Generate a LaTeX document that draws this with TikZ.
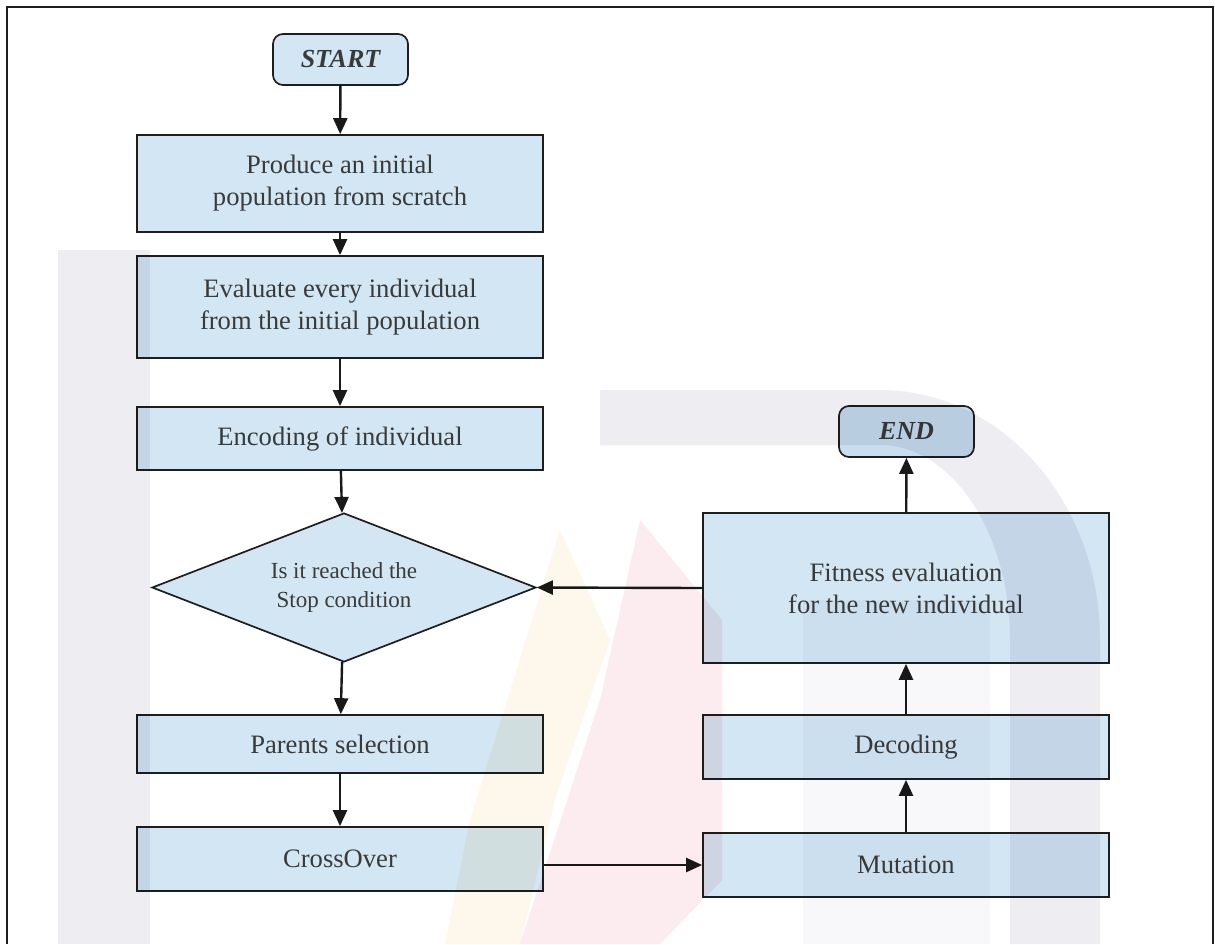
\documentclass[tikz,border=0pt]{standalone}
\usepackage{fontspec}
\setmainfont{Liberation Serif}
\usetikzlibrary{arrows.meta,shapes.geometric}
\definecolor{BoxFill}{RGB}{210,230,243}
\definecolor{EndFill}{RGB}{200,221,238}
\definecolor{BoxLine}{RGB}{30,30,30}
\definecolor{TextGray}{RGB}{58,58,58}
\definecolor{MarkGray}{RGB}{237,237,242}
\definecolor{MarkLight}{RGB}{248,248,250}
\definecolor{MarkPink}{RGB}{252,236,239}
\definecolor{MarkOrange}{RGB}{254,247,236}

\begin{document}
\begin{tikzpicture}[x=0.5pt, y=-0.5pt,
    block/.style={draw=BoxLine, line width=0.85pt, fill=BoxFill, text=TextGray, minimum width=203pt, align=center, inner sep=2pt, font=\fontsize{13.3}{16}\selectfont},
    term/.style={block, rounded corners=5pt, minimum width=67.5pt, minimum height=25.5pt, font=\fontsize{13}{15}\selectfont\bfseries\itshape},
    test/.style={block, diamond, aspect=2.58, minimum width=192pt, minimum height=74.5pt, inner sep=0pt, font=\fontsize{11.5}{14.5}\selectfont},
    flow/.style={-{Triangle[length=8pt,width=7pt]}, line width=1.2pt, draw=black!90}]
        \useasboundingbox (0,0) rectangle (1215,944);
        \fill[white] (0,0) rectangle (1215,944);
        \draw[line width=1.3pt, BoxLine] (7,944) -- (7,7) -- (1213,7) -- (1213,944);

        \node[term] (start) at (340.5,59.5) {START};
        \node[block, minimum height=48.5pt] (produce) at (340,183.5) {Produce an initial\\population from scratch};
        \node[block, minimum height=51pt] (evaluate) at (340,307) {Evaluate every individual\\from the initial population};
        \node[block, minimum height=31.5pt] (encode) at (340,438.5) {Encoding of individual};
        \node[test] (stop) at (344,587.5) {Is it reached the\\Stop condition};
        \node[block, minimum height=29pt] (parents) at (340,744) {Parents selection};
        \node[block, minimum height=32pt] (cross) at (340,859) {CrossOver};
        \node[block, minimum height=32pt] (mutate) at (906,865) {Mutation};
        \node[block, minimum height=32pt] (decode) at (906,747) {Decoding};
        \node[block, minimum height=75pt] (fitness) at (906,588) {Fitness evaluation\\for the new individual};
        \node[term, fill=EndFill] (finish) at (906.5,431.5) {END};

        \draw[flow] (start) -- (produce);
        \draw[flow] (produce) -- (evaluate);
        \draw[flow] (evaluate) -- (encode);
        \draw[flow] (encode) -- (stop);
        \draw[flow] (stop) -- (parents);
        \draw[flow] (parents) -- (cross);
        \draw[flow] (cross.east |- mutate.west) -- (mutate.west);
        \draw[flow] (mutate) -- (decode);
        \draw[flow] (decode) -- (fitness);
        \draw[flow] (fitness) -- (finish);
        \draw[flow] (fitness.west) -- (stop.east);

        \begin{scope}[blend mode=multiply]
        \fill[MarkGray] (58,250) rectangle (150,944);
        \fill[MarkGray] (600,390) -- (880,390) arc[start angle=-90, end angle=0, x radius=220, y radius=250] -- (1100,944) -- (1010,944) -- (1010,640) arc[start angle=0, end angle=-90, x radius=130, y radius=195] -- (600,445) -- cycle;
        \fill[MarkLight] (803,600) rectangle (990,944);
        \fill[MarkPink] (640,520) -- (722,620) -- (722,880) -- (660,944) -- (520,944) -- (600,700) -- cycle;
        \fill[MarkOrange] (560,530) -- (610,640) -- (555,800) -- (520,944) -- (445,944) -- (470,820) -- cycle;
        \end{scope}
      \end{tikzpicture}
\end{document}
